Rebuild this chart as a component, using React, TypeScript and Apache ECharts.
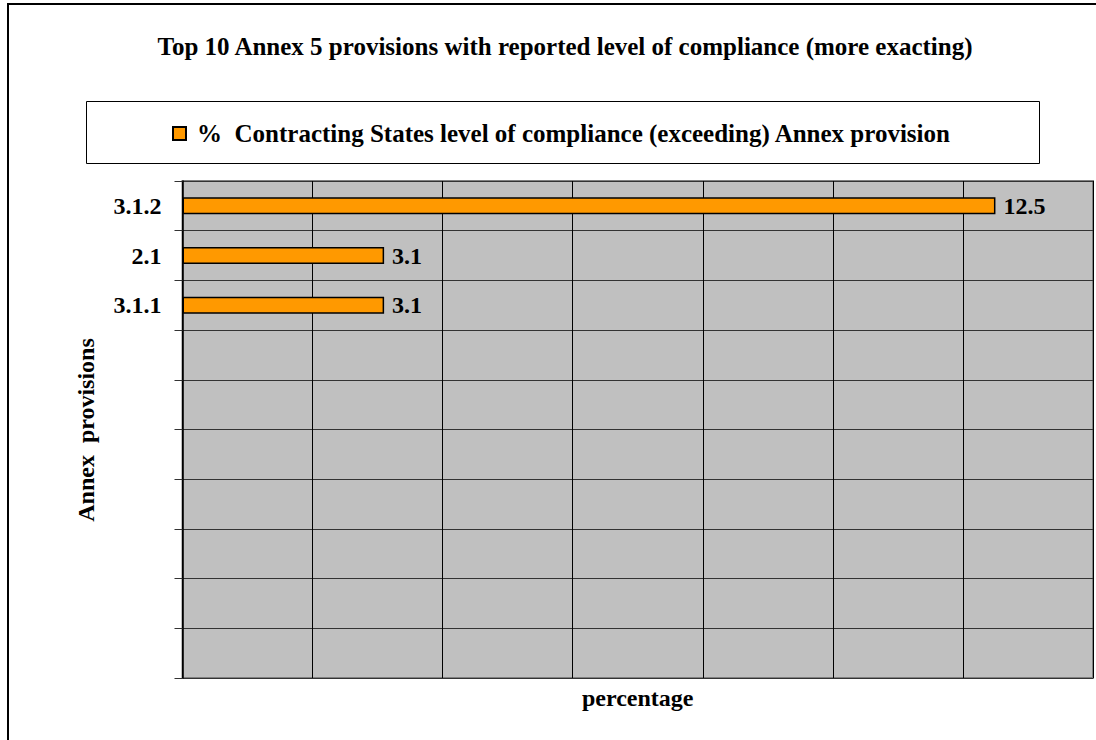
import React, { useEffect, useRef } from "react";
import * as echarts from "echarts";

const titleText = "Top 10 Annex 5 provisions with reported level of compliance (more exacting)";
const seriesName = "%  Contracting States level of compliance (exceeding) Annex provision";
const categories = ["3.1.2", "2.1", "3.1.1", "", "", "", "", "", "", ""];
const values: (number | null)[] = [12.5, 3.1, 3.1, null, null, null, null, null, null, null];
const xMin = 0;
const xMax = 14;
const xInterval = 2;
const xAxisName = "percentage";
const yAxisName = "Annex  provisions";

const FONT = "'Liberation Serif', 'Times New Roman', serif";

export default function App() {
  const ref = useRef<HTMLDivElement>(null);
  useEffect(() => {
    document.body.style.margin = "0";
    if (!ref.current) return;
    const chart = echarts.init(ref.current, undefined, { renderer: "svg" });
    chart.setOption({
      animation: false,
      backgroundColor: "#ffffff",
      textStyle: { fontFamily: FONT },
      title: {
        text: titleText,
        left: 560,
        textAlign: "center",
        top: 29,
        textStyle: { fontFamily: FONT, fontSize: 25, fontWeight: "bold", color: "#000" },
      },
      legend: {
        left: 172,
        top: 121,
        padding: 0,
        itemWidth: 13,
        itemHeight: 13,
        icon: "rect",
        textStyle: { fontFamily: FONT, fontSize: 25, fontWeight: "bold", color: "#000", padding: [0, 0, 0, 6] },
        data: [seriesName],
      },
      graphic: [
        {
          type: "rect",
          shape: { x: 8, y: 4, width: 1200, height: 800 },
          style: { fill: "none", stroke: "#000", lineWidth: 2 },
          silent: true,
        },
        {
          type: "rect",
          shape: { x: 86.5, y: 101.5, width: 953, height: 62 },
          style: { fill: "none", stroke: "#000", lineWidth: 1 },
          silent: true,
        },
        {
          type: "text",
          x: 86,
          y: 430,
          rotation: Math.PI / 2,
          style: {
            text: yAxisName,
            fontFamily: FONT,
            fontSize: 24,
            fontWeight: "bold",
            fill: "#000",
            align: "center",
            verticalAlign: "middle",
          },
          silent: true,
        },
      ],
      grid: {
        left: 182.5,
        top: 181,
        right: 3,
        bottom: 62,
        show: true,
        backgroundColor: "#C0C0C0",
        borderColor: "#808080",
        borderWidth: 2,
        containLabel: false,
      },
      xAxis: {
        type: "value",
        min: xMin,
        max: xMax,
        interval: xInterval,
        axisLabel: { show: false },
        axisTick: { show: false },
        axisLine: { show: false },
        splitLine: { show: true, lineStyle: { color: "#000", width: 1 } },
        name: xAxisName,
        nameLocation: "middle",
        nameGap: 8,
        nameTextStyle: { fontFamily: FONT, fontSize: 24, fontWeight: "bold", color: "#000" },
      },
      yAxis: {
        type: "category",
        inverse: true,
        data: categories,
        axisLine: { show: true, lineStyle: { color: "#000", width: 1.5 } },
        axisTick: { show: true, length: 8, lineStyle: { color: "#333" } },
        axisLabel: { fontFamily: FONT, fontSize: 24, fontWeight: "bold", color: "#000", margin: 21 },
        splitLine: { show: true, lineStyle: { color: "#333", width: 1 } },
      },
      series: [
        {
          name: seriesName,
          type: "bar",
          data: values,
          barWidth: 17,
          itemStyle: { color: "#FF9900", borderColor: "#000", borderWidth: 1.5 },
          label: {
            show: true,
            position: "right",
            distance: 8,
            fontFamily: FONT,
            fontSize: 24,
            fontWeight: "bold",
            color: "#000",
          },
        },
      ],
    });
    return () => chart.dispose();
  }, []);
  return <div ref={ref} style={{ width: 1096, height: 740 }} />;
}
